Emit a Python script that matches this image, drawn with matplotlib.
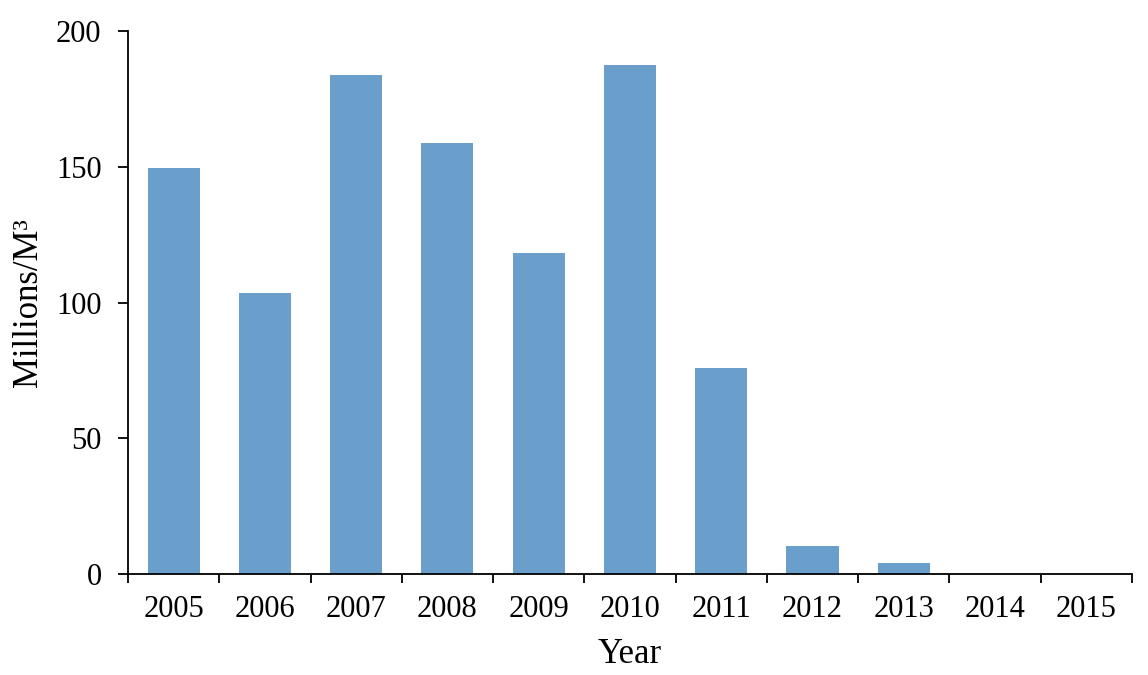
import matplotlib
matplotlib.use("Agg")
import matplotlib.pyplot as plt
from matplotlib.ticker import FixedLocator

years = ["2005", "2006", "2007", "2008", "2009", "2010", "2011", "2012", "2013", "2014", "2015"]
values = [149.5, 103.5, 183.8, 158.7, 118.2, 187.5, 75.9, 10.3, 4.0, 0.0, 0.0]

plt.rcParams['font.family'] = ['Liberation Serif', 'DejaVu Serif']

fig = plt.figure(figsize=(11.48, 6.75), dpi=100)
ax = fig.add_axes([0.1115, 0.1496, 0.8745, 0.8044])

x = list(range(len(years)))
ax.bar(x, values, width=0.57, color='#6A9FCC', zorder=2)

ax.set_xlim(-0.5, len(years) - 0.5)
ax.set_ylim(0, 200)
ax.set_yticks([0, 50, 100, 150, 200])
ax.set_xticks(x)
ax.set_xticklabels(years)
ax.xaxis.set_minor_locator(FixedLocator([i - 0.5 for i in range(len(years) + 1)]))
ax.tick_params(axis='x', which='major', length=0, labelsize=22, pad=15)
ax.tick_params(axis='x', which='minor', length=6.5, width=1.3, direction='out')
ax.tick_params(axis='y', which='major', length=7, width=1.3, direction='out', labelsize=22, pad=12)

for s in ['top', 'right']:
    ax.spines[s].set_visible(False)
for s in ['left', 'bottom']:
    ax.spines[s].set_linewidth(1.3)

ax.set_xlabel('Year', fontsize=25, labelpad=10)
ax.set_ylabel('Millions/M³', fontsize=25, labelpad=8)

fig.savefig('out.png', dpi=100)
